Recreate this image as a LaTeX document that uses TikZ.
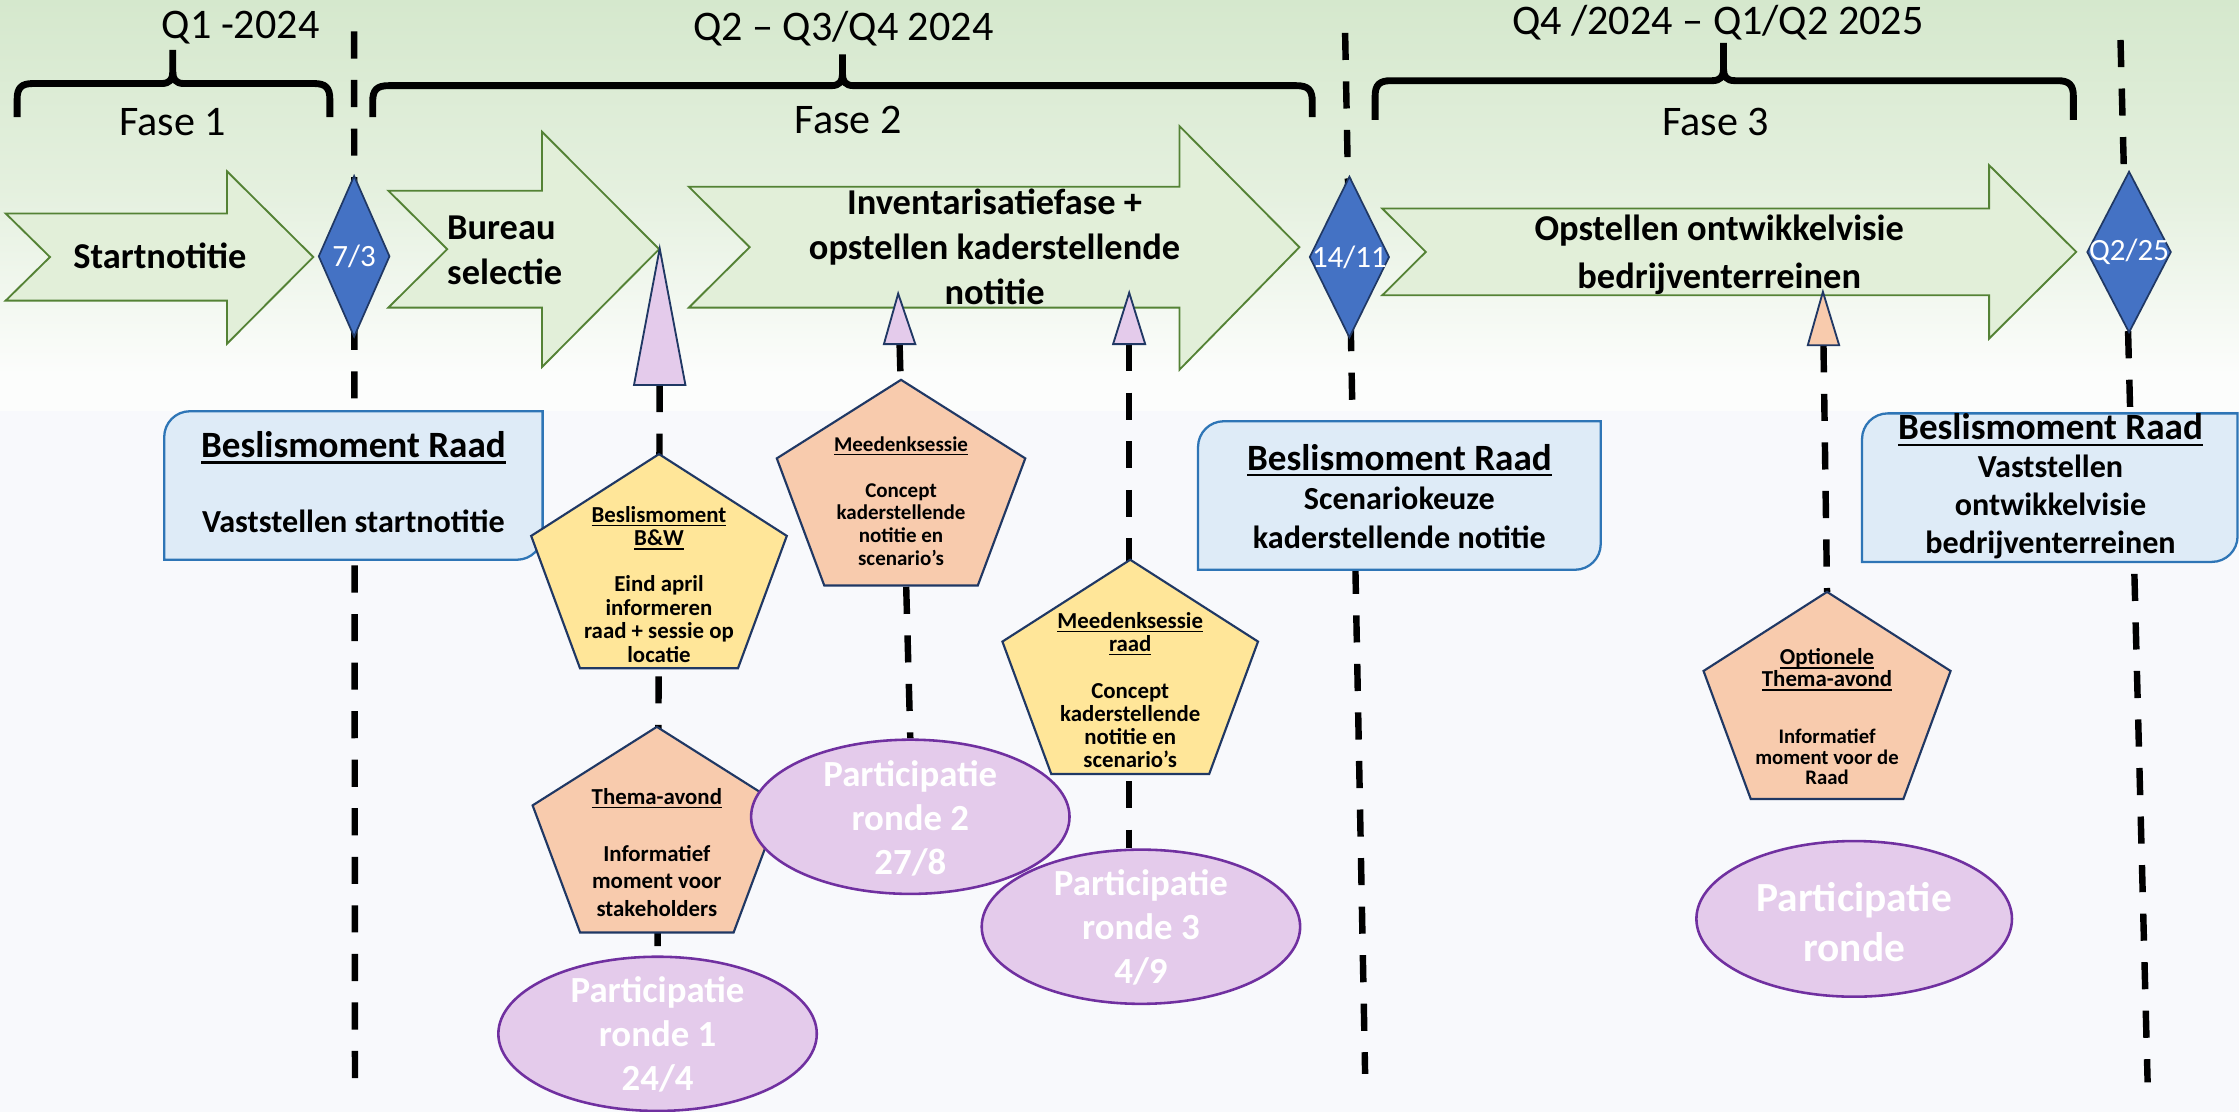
\documentclass[tikz,border=0pt]{standalone}
\usepackage{fontspec}
\setmainfont{Carlito}
\usetikzlibrary{shapes.geometric}
\pgfdeclarelayer{bgl}
\pgfdeclarelayer{lnl}
\pgfsetlayers{bgl,lnl,main}
\definecolor{topgreen}{RGB}{213,232,205}
\definecolor{midgreen}{RGB}{228,240,222}
\definecolor{fadewhite}{RGB}{252,253,252}
\definecolor{bgpale}{RGB}{248,249,252}
\definecolor{arrowfill}{RGB}{226,239,217}
\definecolor{arrowline}{RGB}{84,130,53}
\definecolor{diamfill}{RGB}{68,114,196}
\definecolor{navy}{RGB}{32,56,100}
\definecolor{boxfill}{RGB}{222,235,247}
\definecolor{boxline}{RGB}{46,117,182}
\definecolor{pyellow}{RGB}{255,230,153}
\definecolor{porange}{RGB}{248,203,173}
\definecolor{lilac}{RGB}{228,203,235}
\definecolor{purpleline}{RGB}{112,48,160}

\newcommand{\myul}[1]{\setbox0=\hbox{#1}\leavevmode\rlap{\rule[-0.17em]{\wd0}{0.06em}}\box0}

% pentagon: name, cx, top, W, H, extra style
\newcommand{\pentag}[6]{%
  \coordinate (#1-top) at (#2,#3);
  \coordinate (#1-bot) at (#2,{#3+#5});
  \draw[pent,#6] (#2,#3) -- ({#2+0.5*#4},{#3+0.382*#5}) -- ({#2+0.309*#4},{#3+#5})
     -- ({#2-0.309*#4},{#3+#5}) -- ({#2-0.5*#4},{#3+0.382*#5}) -- cycle;}

% box with rounded top-left and bottom-right corners: x1 y1 x2 y2 r
\newcommand{\rdbox}[5]{%
  \draw[boxst] (#1,#4) -- (#1,{#2+#5}) .. controls (#1,{#2+0.448*#5}) and ({#1+0.448*#5},#2) .. ({#1+#5},#2)
     -- (#3,#2) -- (#3,{#4-#5}) .. controls (#3,{#4-0.448*#5}) and ({#3-0.448*#5},#4) .. ({#3-#5},#4) -- cycle;}

% brace: x1 x2 xt y yend ytip
\newcommand{\topbrace}[6]{%
  \draw[bracest] (#1,#5) -- (#1,{#4+11}) .. controls (#1,{#4+3}) and ({#1+3},#4) .. ({#1+11},#4)
     -- ({#3-8},#4) .. controls ({#3-2},#4) and (#3,{#4-3}) .. (#3,{#4-8}) -- (#3,#6);
  \draw[bracest] (#2,#5) -- (#2,{#4+11}) .. controls (#2,{#4+3}) and ({#2-3},#4) .. ({#2-11},#4)
     -- ({#3+8},#4) .. controls ({#3+2},#4) and (#3,{#4-3}) .. (#3,{#4-8});}

\tikzset{
  dline/.style={line width=4.5pt, dash pattern=on 19pt off 15pt},
  bracest/.style={line width=4.8pt, line join=round, line cap=butt},
  arrowst/.style={fill=arrowfill, draw=arrowline, line width=1.3pt, line join=miter},
  arrowtext/.style={font=\bfseries\fontsize{25.5}{31.6}\selectfont, inner sep=0pt},
  toptext/.style={font=\fontsize{29.5}{35}\selectfont, inner sep=0pt, anchor=base},
  diam/.style={shape=diamond, fill=diamfill, draw=navy, line width=1.2pt, inner sep=0pt, minimum height=113pt},
  diamtext/.style={text=white, font=\fontsize{21.7}{26}\selectfont, inner sep=0pt},
  boxst/.style={fill=boxfill, draw=boxline, line width=1.6pt},
  boxtext/.style={align=center, inner sep=0pt, font=\bfseries\fontsize{22.5}{27}\selectfont},
  pent/.style={draw=navy, line width=1.5pt, line join=miter},
  penttext/.style={align=center, inner sep=0pt},
  tri/.style={draw=navy, line width=1.3pt, line join=miter},
  ell/.style={shape=ellipse, fill=lilac, draw=purpleline, line width=1.8pt, inner sep=0pt, minimum width=223pt, minimum height=108pt},
  elltext/.style={align=center, inner sep=0pt, text=white, font=\bfseries\fontsize{25.8}{31}\selectfont},
}

\begin{document}
\begin{tikzpicture}[x=1pt,y=-1pt]
\useasboundingbox (0,0) rectangle (1568,778.7);
\begin{pgfonlayer}{bgl}
  \fill[bgpale] (0,0) rectangle (1568,778.7);
  \fill[fadewhite] (0,0) rectangle (1568,288);
  \shade[top color=topgreen, bottom color=midgreen] (0,0) rectangle (1568,130);
  \shade[top color=midgreen, bottom color=fadewhite] (0,130) rectangle (1568,262);
\end{pgfonlayer}

% line end points
\coordinate (L1a) at (248,22);
\coordinate (L1b) at (248.6,763);
\coordinate (L2a) at (942,23);
\coordinate (L2b) at (956,752);
\coordinate (L3a) at (1485,28);
\coordinate (L3b) at (1504,758);

% top labels
\node[toptext] (q1) at (168.5,27) {Q1 -2024};
\node[toptext] (q2) at (590.5,28.5) {Q2 – Q3/Q4 2024};
\node[toptext] (q3) at (1203,24.5) {Q4 /2024 – Q1/Q2 2025};
\node[toptext] (f1) at (121,94.6) {Fase 1};
\node[toptext] (f2) at (594,93.5) {Fase 2};
\node[toptext] (f3) at (1201.5,94.6) {Fase 3};

% braces
\topbrace{12}{231}{121}{58.5}{82}{35}
\topbrace{261}{919}{590}{60}{82}{38}
\topbrace{963}{1452}{1207}{56.5}{84}{30}

% notched arrows
\draw[arrowst] (4,149.5) -- (159,149.5) -- (159,120) -- (219.4,180) -- (159,240.7) -- (159,210.5) -- (4,210.5) -- (35,180) -- cycle;
\draw[arrowst] (272,133.6) -- (379.6,133.6) -- (379.6,92.3) -- (461.6,174.5) -- (379.6,257) -- (379.6,215.4) -- (272,215.4) -- (313.2,174.5) -- cycle;
\draw[arrowst] (482.4,130.8) -- (826,130.8) -- (826,88.3) -- (910,173.1) -- (826,258.9) -- (826,215.4) -- (482.4,215.4) -- (525,173.1) -- cycle;
\draw[arrowst] (968,146) -- (1393,146) -- (1393,115.7) -- (1454,176.4) -- (1393,237.1) -- (1393,206.8) -- (968,206.8) -- (998.5,176.4) -- cycle;

\node[arrowtext, anchor=base] (a1t) at (112,188) {Startnotitie};
\node[arrowtext, align=left, anchor=west] (a2t) at (313,175.5) {Bureau\\selectie};
\node[arrowtext, align=center] (a3t) at (696.5,172.9) {Inventarisatiefase +\\opstellen kaderstellende\\notitie};
\node[arrowtext, align=center, font=\bfseries\fontsize{25.5}{33}\selectfont] (a4t) at (1204,178.4) {Opstellen ontwikkelvisie\\bedrijventerreinen};

% diamonds
\node[diam, minimum width=50pt] (d1) at (248,179.5) {};
\node[diamtext] (d1t) at (d1) {7/3};
\node[diam, minimum width=56pt] (d2) at (945,180) {};
\node[diamtext] (d2t) at (d2) {14/11};
\node[diam, minimum width=59pt] (d3) at (1491,176.5) {};
\node[diamtext] (d3t) at (d3) {Q2/25};

% decision boxes
\rdbox{115}{288}{380}{392}{18}
\node[boxtext] (b1t) at (247.5,337.5) {{\fontsize{26}{27}\selectfont\myul{Beslismoment Raad}}\\[25.5pt]Vaststellen startnotitie};
\rdbox{839}{295}{1121}{399}{18}
\node[boxtext, font=\bfseries\fontsize{22.5}{27.5}\selectfont] (b2t) at (980,347.7) {{\fontsize{26}{27.5}\selectfont\myul{Beslismoment Raad}}\\Scenariokeuze\\kaderstellende notitie};
\rdbox{1304}{289.5}{1567}{393.5}{18}
\node[boxtext, font=\bfseries\fontsize{22.5}{26.5}\selectfont] (b3t) at (1436,340.6) {{\fontsize{26}{26.5}\selectfont\myul{Beslismoment Raad}}\\Vaststellen\\ontwikkelvisie\\bedrijventerreinen};

% pentagons
\pentag{pbw}{461.5}{318}{179}{150}{fill=pyellow}
\node[penttext, font=\bfseries\fontsize{16}{16.4}\selectfont] (pbwt) at (461.5,409.2) {\myul{Beslismoment}\\\myul{B\&W}\\[16pt]Eind april\\informeren\\raad + sessie op\\locatie};
\pentag{pth}{460}{509}{174}{144}{fill=porange}
\node[penttext, font=\bfseries\fontsize{16}{19.3}\selectfont] (ptht) at (460,597) {\myul{Thema-avond}\\[20.4pt]Informatief\\moment voor\\stakeholders};
\pentag{pmd}{631}{266}{174}{144}{fill=porange}
\node[penttext, font=\bfseries\fontsize{14.7}{15.9}\selectfont] (pmdt) at (631,351) {\myul{Meedenksessie}\\[15.9pt]Concept\\kaderstellende\\notitie en\\scenario’s};
\pentag{pmr}{791.5}{392}{179}{150}{fill=pyellow}
\node[penttext, font=\bfseries\fontsize{16}{16.2}\selectfont] (pmrt) at (791.5,483.3) {\myul{Meedenksessie}\\\myul{raad}\\[16.5pt]Concept\\kaderstellende\\notitie en\\scenario’s};
\pentag{pop}{1279.5}{414.5}{173}{145}{fill=porange}
\node[penttext, font=\bfseries\fontsize{14.5}{14.5}\selectfont] (popt) at (1279.5,502) {{\fontsize{16}{14.5}\selectfont\myul{Optionele}}\\[1pt]{\fontsize{16}{14.5}\selectfont\myul{Thema-avond}}\\[25pt]Informatief\\moment voor de\\Raad};

% triangles
\draw[tri, fill=lilac] (462,174) -- (480,269.6) -- (444,269.6) -- cycle;
\coordinate (t1b) at (462,269.6);
\draw[tri, fill=lilac] (629,205.6) -- (641,241) -- (619,241) -- cycle;
\coordinate (t2b) at (630,241);
\draw[tri, fill=lilac] (790.8,205) -- (802,241) -- (779.5,241) -- cycle;
\coordinate (t3b) at (790.8,241);
\draw[tri, fill=porange] (1276.6,204.4) -- (1288,241.8) -- (1266,241.8) -- cycle;
\coordinate (t4b) at (1277,241.8);

% participation ellipses
\node[ell] (e1) at (460.5,724) {};
\node[elltext] (e1t) at (460.5,724.5) {Participatie\\ronde 1\\24/4};
\node[ell] (e2) at (637.5,572) {};
\node[elltext] (e2t) at (637.5,573) {Participatie\\ronde 2\\27/8};
\node[ell] (e3) at (799,649) {};
\node[elltext] (e3t) at (799,649.5) {Participatie\\ronde 3\\4/9};
\node[ell, minimum width=221pt, minimum height=109pt] (e4) at (1298.5,643.5) {};
\node[elltext, font=\bfseries\fontsize{29}{35}\selectfont] (e4t) at (1298.5,645.5) {Participatie\\ronde};

% dashed lines
\begin{pgfonlayer}{lnl}
  \draw[dline] (L1a) -- (L1b);
  \draw[dline] (L2a) -- (L2b);
  \draw[dline] (L3a) -- (L3b);
  \draw[dline] (t1b) -- (e1.north);
  \draw[dline] (t2b) -- (e2.north);
  \draw[dline] (t3b) -- (t3b |- e3.north);
  \draw[dline] (t4b) -- (pop-top);
\end{pgfonlayer}
\end{tikzpicture}
\end{document}
